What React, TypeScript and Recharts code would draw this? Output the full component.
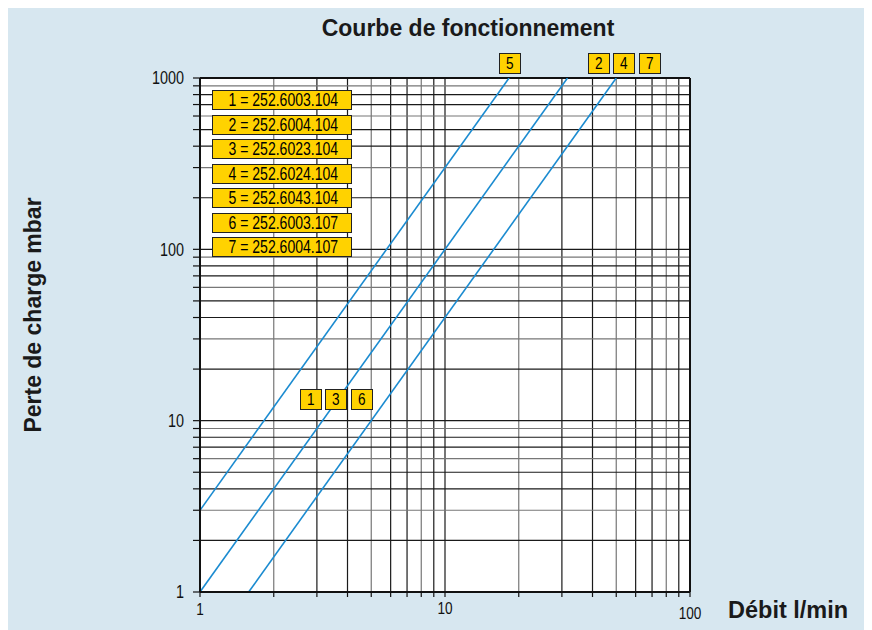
import React from "react";
import { LineChart, Line, XAxis, YAxis, ReferenceLine, ReferenceArea } from "recharts";

const xGrid = [1, 2, 3, 4, 5, 6, 7, 8, 9, 10, 20, 30, 40, 50, 60, 70, 80, 90, 100];
const yGrid = [1, 2, 3, 4, 5, 6, 7, 8, 9, 10, 20, 30, 40, 50, 60, 70, 80, 90, 100, 200, 300, 400, 500, 600, 700, 800, 900, 1000];
const xLabels = [1, 10, 100];
const yLabels = [1, 10, 100, 1000];

// curve 1/5: dp = 3 q^2 ; curve 2/3: dp = q^2 ; curve 4/6/7: dp = 0.4 q^2
const curveA = [{ x: 1, y: 3 }, { x: 18.26, y: 1000 }];
const curveB = [{ x: 1, y: 1 }, { x: 31.62, y: 1000 }];
const curveC = [{ x: 1.58, y: 1 }, { x: 50.0, y: 1000 }];

const legendItems = [
  "1 = 252.6003.104",
  "2 = 252.6004.104",
  "3 = 252.6023.104",
  "4 = 252.6024.104",
  "5 = 252.6043.104",
  "6 = 252.6003.107",
  "7 = 252.6004.107",
];
const topTags = ["5", "2", "4", "7"];
const bottomTags = ["1", "3", "6"];

const FONT = "Liberation Sans, Arial, Helvetica, sans-serif";
const W = 856;
const H = 622;

const XTick = (props: any) => {
  const { x, y, payload } = props;
  const v = payload.value;
  if (!xLabels.includes(v)) return null;
  const extra = v === 100 ? 5 : v === 1 ? 1 : 0;
  return (
    <g transform={`translate(${x},${y + extra})`}>
      <text transform="scale(0.8,1)" dy="0.71em" textAnchor="middle" fontSize={17} fill="#111" fontFamily={FONT}>
        {v}
      </text>
    </g>
  );
};

const YTick = (props: any) => {
  const { x, y, payload } = props;
  const v = payload.value;
  if (!yLabels.includes(v)) return null;
  return (
    <g transform={`translate(${x},${y})`}>
      <text transform="scale(0.8,1)" dy="0.36em" textAnchor="end" fontSize={18} fill="#111" fontFamily={FONT}>
        {v}
      </text>
    </g>
  );
};

const tagStyle: React.CSSProperties = {
  position: "absolute",
  width: 20,
  height: 19,
  background: "#FFD200",
  border: "1px solid #222",
  fontFamily: FONT,
  fontSize: 17,
  lineHeight: "19px",
  textAlign: "center",
  color: "#000",
};

const squeeze: React.CSSProperties = { display: "inline-block", transform: "scaleX(0.8)", whiteSpace: "nowrap" };

export default function App() {
  const topX = [491, 580, 605, 631];
  const bottomX = [292, 317, 343];
  return (
    <div style={{ position: "relative", width: W, height: H, background: "#D7E7F0", overflow: "hidden" }}>
      <div
        style={{
          position: "absolute",
          left: 0,
          top: 7,
          width: 920,
          textAlign: "center",
          fontFamily: FONT,
          fontWeight: "bold",
          fontSize: 23,
          color: "#1a1a1a",
        }}
      >
        Courbe de fonctionnement
      </div>
      <div style={{ position: "absolute", left: 0, top: 0 }}>
        <LineChart
          width={W}
          height={H}
          margin={{ top: 70, right: 174, bottom: 8, left: 132 }}
        >
          <XAxis
            dataKey="x"
            type="number"
            scale="log"
            domain={[1, 100]}
            ticks={xGrid}
            interval={0}
            allowDataOverflow
            height={30}
            tickSize={5}
            tickMargin={5}
            tick={<XTick />}
            axisLine={{ stroke: "#111", strokeWidth: 2 }}
            tickLine={{ stroke: "#111", strokeWidth: 1.2 }}
          />
          <YAxis
            dataKey="y"
            type="number"
            scale="log"
            domain={[1, 1000]}
            ticks={yGrid}
            interval={0}
            allowDataOverflow
            width={60}
            tickSize={7}
            tickMargin={9}
            tick={<YTick />}
            axisLine={{ stroke: "#111", strokeWidth: 2 }}
            tickLine={{ stroke: "#111", strokeWidth: 1.2 }}
          />
          <ReferenceArea x1={1} x2={100} y1={1} y2={1000} fill="#ffffff" fillOpacity={1} stroke="none" />
          {xGrid.map((v, i) => (
            <ReferenceLine key={"vx" + v} x={v} stroke={i % 3 === 1 ? "#777" : "#1a1a1a"} strokeWidth={1.2} />
          ))}
          {yGrid.map((v, i) => (
            <ReferenceLine key={"hy" + v} y={v} stroke={i % 3 === 2 ? "#777" : "#1a1a1a"} strokeWidth={1.2} />
          ))}
          <ReferenceLine x={100} stroke="#111" strokeWidth={2} />
          <ReferenceLine y={1000} stroke="#111" strokeWidth={2} />
          <Line data={curveA} dataKey="y" stroke="#1B8BD0" strokeWidth={1.6} dot={false} isAnimationActive={false} />
          <Line data={curveB} dataKey="y" stroke="#1B8BD0" strokeWidth={1.6} dot={false} isAnimationActive={false} />
          <Line data={curveC} dataKey="y" stroke="#1B8BD0" strokeWidth={1.6} dot={false} isAnimationActive={false} />
        </LineChart>
      </div>
      {legendItems.map((t, i) => (
        <div
          key={t}
          style={{
            position: "absolute",
            left: 204,
            top: 82 + i * 24.5,
            width: 138,
            height: 18,
            background: "#FFD200",
            border: "1px solid #222",
            fontFamily: FONT,
            fontSize: 18,
            lineHeight: "19px",
            textAlign: "center",
            color: "#000",
            overflow: "visible",
          }}
        >
          <span style={{ ...squeeze, transform: "scaleX(0.78)" }}>{t}</span>
        </div>
      ))}
      {topTags.map((t, i) => (
        <div key={"t" + t} style={{ ...tagStyle, left: topX[i], top: 45 }}>
          <span style={squeeze}>{t}</span>
        </div>
      ))}
      {bottomTags.map((t, i) => (
        <div key={"b" + t} style={{ ...tagStyle, left: bottomX[i], top: 381 }}>
          <span style={squeeze}>{t}</span>
        </div>
      ))}
      <div
        style={{
          position: "absolute",
          left: 25,
          top: 307,
          transform: "translate(-50%, -50%) rotate(-90deg)",
          whiteSpace: "nowrap",
          fontFamily: FONT,
          fontWeight: "bold",
          fontSize: 23,
          color: "#1a1a1a",
        }}
      >
        Perte de charge mbar
      </div>
      <div
        style={{
          position: "absolute",
          left: 720,
          top: 589,
          whiteSpace: "nowrap",
          fontFamily: FONT,
          fontWeight: "bold",
          fontSize: 23.5,
          color: "#1a1a1a",
        }}
      >
        Débit l/min
      </div>
    </div>
  );
}
